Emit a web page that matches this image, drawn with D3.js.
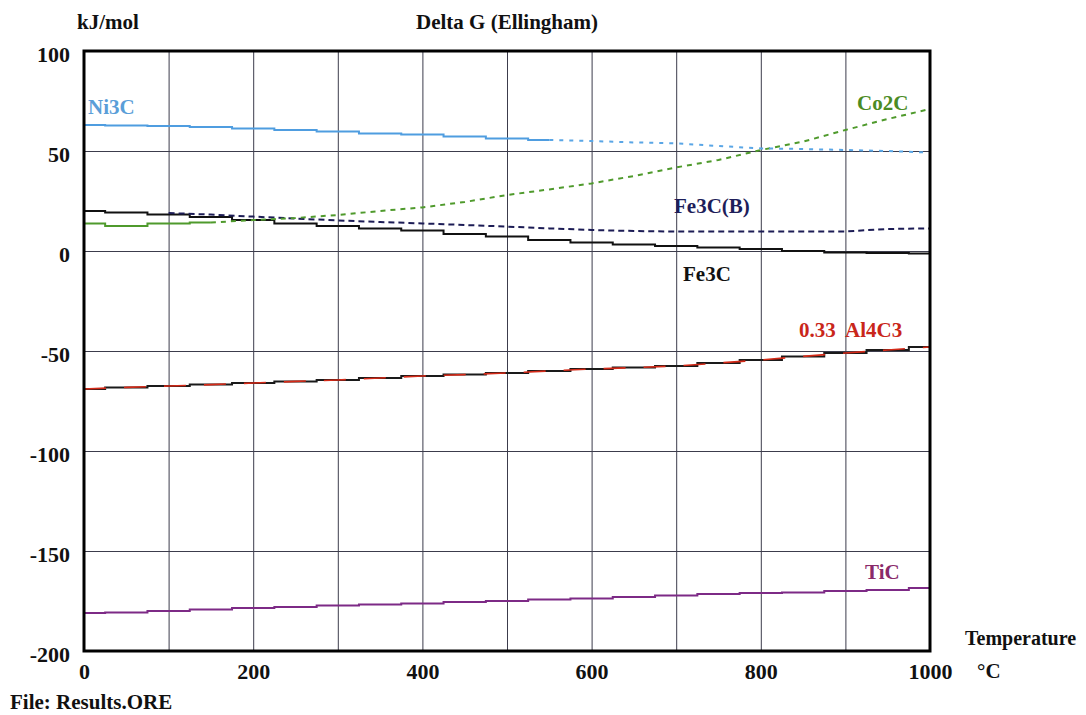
<!DOCTYPE html>
<html>
<head>
<meta charset="utf-8">
<script src="https://cdn.jsdelivr.net/npm/d3@7"></script>
<style>
  body { margin: 0; background: #fff; }
  svg text { font-family: "Liberation Serif", "Times New Roman", serif; font-weight: bold; }
</style>
</head>
<body>
<svg id="svg1" width="1086" height="715"></svg>
<script>
// temperatures (degC) the curves were read at
var temps = [0, 50, 100, 150, 200, 250, 300, 350, 400, 450, 500,
             550, 600, 650, 700, 750, 800, 850, 900, 950, 1000];

// Delta G values in kJ/mol, null where the curve is not drawn
var ni3c  = [63, 62.8, 62.5, 62, 61.3, 60.5, 59.7, 58.7, 58.3, 57.3, 56.3,
             55.5, 55, 54.3, 53.8, 52.5, 51.3, 51, 50.5, 50, 49.2];
var co2c  = [13.8, 12.5, 13.8, 14.2, 15.5, 16.5, 18, 20, 21.8, 24.5, 28,
             30.8, 33.8, 37.5, 41.8, 45.5, 50.5, 54.7, 60.5, 66, 71];
var fe3cB = [null, null, 19, 18.2, 17.2, 16.2, 15.3, 14.5, 13.8, 13, 12.2,
             11.3, 10.5, 10, 9.7, 9.7, 9.7, 9.8, 9.8, 11, 11.3];
var fe3c  = [20, 19.2, 18.3, 17, 15.5, 13.8, 12.5, 11.3, 10.2, 8.5, 7.2,
             5.5, 4.3, 3.3, 2.5, 1.7, 1, 0, -0.8, -1, -1.2];
var al4c3 = [-69, -68.2, -67.5, -66.8, -66, -65.2, -64.5, -63.5, -62.5, -61.8, -61,
             -60, -59, -58.3, -57.5, -56, -54.5, -52.7, -51, -49.5, -48];
var tic   = [-181, -180.8, -180, -179.3, -178.5, -178, -177.3, -176.8, -176.2, -175.5, -175,
             -174.3, -173.7, -173, -172.3, -171.5, -171, -170.7, -170, -169.5, -168.5];

var xTicks = [0, 200, 400, 600, 800, 1000];
var yTicks = [-200, -150, -100, -50, 0, 50, 100];

var margin = {left: 84, top: 51};
var width = 846, height = 600;

var svg = d3.select("#svg1");

var x = d3.scaleLinear().domain([0, 1000]).range([margin.left, margin.left + width]);
var y = d3.scaleLinear().domain([-200, 100]).range([margin.top + height, margin.top]);

// grid
svg.append("g")
  .attr("transform", `translate(0,${margin.top + height})`)
  .call(d3.axisBottom(x).tickValues(d3.range(0, 1001, 100)).tickSize(-height).tickFormat(""))
  .call(g => g.select(".domain").remove())
  .selectAll("line").attr("stroke", "#3c3c4c").attr("stroke-width", 1);

svg.append("g")
  .attr("transform", `translate(${margin.left},0)`)
  .call(d3.axisLeft(y).tickValues(yTicks).tickSize(-width).tickFormat(""))
  .call(g => g.select(".domain").remove())
  .selectAll("line").attr("stroke", "#3c3c4c").attr("stroke-width", 1);

// tick labels (plain hyphen minus, no thousands separator)
svg.append("g")
  .attr("transform", `translate(${margin.left},0)`)
  .call(d3.axisLeft(y).tickValues(yTicks).tickSize(0).tickPadding(14).tickFormat(d => String(d)))
  .call(g => g.select(".domain").remove())
  .selectAll("text")
    .attr("dy", 10)
    .style("font-size", "22px")
    .attr("fill", "#111");

svg.append("g")
  .attr("transform", `translate(0,${margin.top + height})`)
  .call(d3.axisBottom(x).tickValues(xTicks).tickSize(0).tickPadding(12).tickFormat(d => String(d)))
  .call(g => g.select(".domain").remove())
  .selectAll("text")
    .style("font-size", "22px")
    .attr("fill", "#111");

// series
function pts(vals, from, to) {
  var out = [];
  for (var i = from; i <= to; i++) {
    if (vals[i] !== null) out.push([temps[i], vals[i]]);
  }
  return out;
}
var lineStep = d3.line().x(d => x(d[0])).y(d => y(d[1])).curve(d3.curveStep);
var lineLin = d3.line().x(d => x(d[0])).y(d => y(d[1]));

function draw(data, color, w, dash, gen) {
  svg.append("path")
    .attr("d", gen(data))
    .attr("fill", "none")
    .attr("stroke", color)
    .attr("stroke-width", w)
    .attr("stroke-dasharray", dash || null);
}

// TiC
draw(pts(tic, 0, 20), "#7d2a86", 2, null, lineStep);
// Al4C3 (black and red drawn over each other)
draw(pts(al4c3, 0, 20), "#1a1a1a", 2, null, lineStep);
draw(pts(al4c3, 0, 20), "#d42a18", 1.6, "22,18", lineLin);
// Fe3C
draw(pts(fe3c, 0, 20), "#111", 2, null, lineStep);
// Fe3C(B)
draw(pts(fe3cB, 0, 20), "#1c1c55", 2, "6,4", lineLin);
// Co2C
draw(pts(co2c, 0, 3), "#4f9a2c", 2, null, lineStep);
draw(pts(co2c, 3, 20), "#4f9a2c", 2, "5,5", lineLin);
// Ni3C
draw(pts(ni3c, 0, 11), "#4f9de0", 2, null, lineStep);
draw(pts(ni3c, 11, 20), "#5aa6e6", 2, "4,6", lineLin);

// plot frame
svg.append("rect")
  .attr("x", margin.left).attr("y", margin.top)
  .attr("width", width).attr("height", height)
  .attr("fill", "none").attr("stroke", "#000").attr("stroke-width", 3);

// series labels
var labels = [
  {t: "Ni3C", x: 88, y: 114, c: "#5a9ed8"},
  {t: "Co2C", x: 857, y: 110, c: "#4b8b24"},
  {t: "Fe3C(B)", x: 674, y: 213, c: "#1e1e5a"},
  {t: "Fe3C", x: 683, y: 281, c: "#111"},
  {t: "0.33\u00a0 Al4C3", x: 799, y: 337, c: "#c9261a"},
  {t: "TiC", x: 865, y: 579, c: "#8a2a6a"}
];
svg.selectAll(".lab").data(labels).enter()
  .append("text")
  .attr("class", "lab")
  .attr("x", d => d.x).attr("y", d => d.y)
  .attr("fill", d => d.c)
  .style("font-size", "21px")
  .text(d => d.t);

// titles
svg.append("text").attr("x", 77).attr("y", 29).style("font-size", "21px").attr("fill", "#111").text("kJ/mol");
svg.append("text").attr("x", 507).attr("y", 29).attr("text-anchor", "middle").style("font-size", "21px").attr("fill", "#111").text("Delta G (Ellingham)");
svg.append("text").attr("x", 965).attr("y", 645).style("font-size", "20px").attr("fill", "#111").text("Temperature");
svg.append("text").attr("x", 977).attr("y", 678).style("font-size", "21px").attr("fill", "#111").text("\u00b0C");
svg.append("text").attr("x", 10).attr("y", 709).style("font-size", "21px").attr("fill", "#111").text("File: Results.ORE");
</script>
</body>
</html>
